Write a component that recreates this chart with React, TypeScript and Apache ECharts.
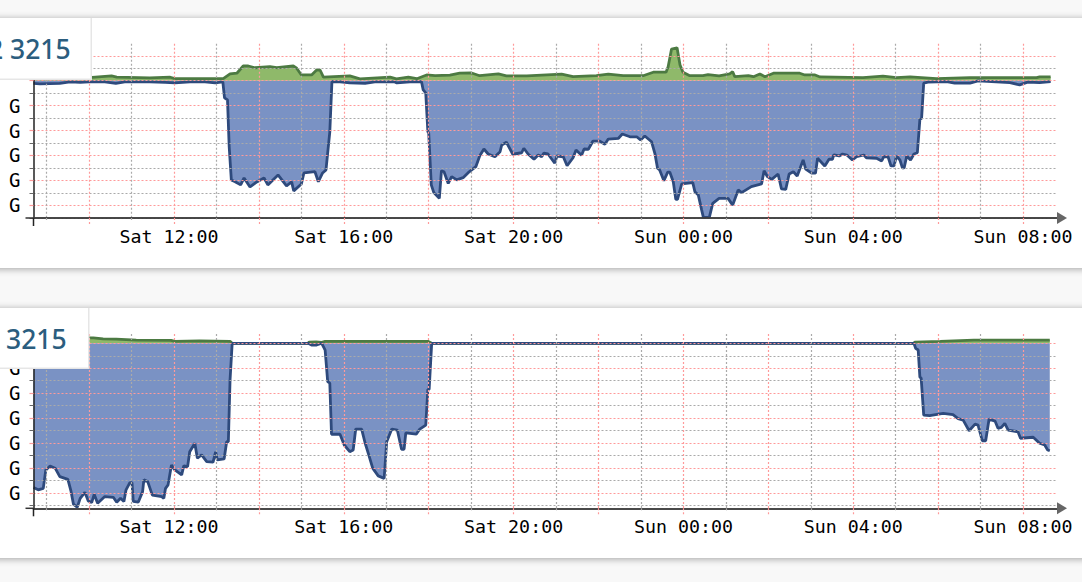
import React, { useEffect, useRef } from 'react';
import * as echarts from 'echarts';

// time axis is hours counted from Sat 00:00, y axis is in G
const minHours = 8.69;
const maxHours = 32.8;
const oddHours = [9, 11, 13, 15, 17, 19, 21, 23, 25, 27, 29, 31];
const evenHours = [10, 12, 14, 16, 18, 20, 22, 24, 26, 28, 30, 32];
const xLabelValues = [11.88, 16, 20, 24, 28, 32];
const xLabelTexts = ['Sat 12:00', 'Sat 16:00', 'Sat 20:00', 'Sun 00:00', 'Sun 04:00', 'Sun 08:00'];

const topMajorY = [1, 0, -1, -2, -3, -4, -5];
const topMinorY = [0.5, -0.5, -1.5, -2.5, -3.5, -4.5, -5.5];
const topLabelY = [-1, -2, -3, -4, -5];
const bottomMajorY = [0, -1, -2, -3, -4, -5, -6];
const bottomMinorY = [-0.5, -1.5, -2.5, -3.5, -4.5, -5.5, -6.5];
const bottomLabelY = [-1, -2, -3, -4, -5, -6];

const topIn = [
  [8.69, 0.14], [10.07, 0.13], [10.53, 0.19], [10.65, 0.14], [11.43, 0.11], [11.91, 0.14], [12.02, 0.08], [13.16, 0.08],
  [13.32, 0.27], [13.48, 0.3], [13.63, 0.59], [13.75, 0.59], [13.91, 0.52], [14.26, 0.56], [14.42, 0.52], [14.81, 0.59],
  [14.89, 0.5], [15.0, 0.23], [15.24, 0.23], [15.36, 0.43], [15.44, 0.43], [15.52, 0.14], [16.14, 0.19], [16.38, 0.07],
  [17.09, 0.14], [17.24, 0.07], [17.52, 0.14], [17.72, 0.08], [17.95, 0.23], [18.15, 0.2], [18.5, 0.22], [18.73, 0.3],
  [19.01, 0.31], [19.2, 0.2], [19.64, 0.27], [19.83, 0.19], [20.31, 0.19], [21.13, 0.26], [21.4, 0.16], [21.95, 0.2],
  [22.23, 0.26], [22.58, 0.2], [23.05, 0.2], [23.29, 0.34], [23.59, 0.34], [23.64, 0.56], [23.72, 1.27], [23.85, 1.32],
  [23.92, 0.63], [23.99, 0.34], [24.15, 0.2], [24.46, 0.2], [24.58, 0.24], [24.84, 0.19], [25.09, 0.27], [25.16, 0.36],
  [25.21, 0.16], [25.53, 0.2], [25.65, 0.16], [25.8, 0.27], [25.92, 0.16], [26.12, 0.3], [26.74, 0.3], [26.86, 0.23],
  [27.1, 0.23], [27.22, 0.15], [28.23, 0.12], [28.7, 0.18], [29.02, 0.12], [29.34, 0.15], [29.96, 0.08], [30.75, 0.12],
  [32.32, 0.12], [32.39, 0.15], [32.65, 0.15],
];

const topOut = [
  [8.69, -0.11], [8.84, -0.13], [9.31, -0.11], [9.55, -0.05], [9.79, -0.07], [10.0, -0.05], [10.37, -0.05], [10.63, -0.11],
  [10.84, -0.05], [11.43, -0.05], [11.79, -0.07], [12.02, -0.09], [12.38, -0.05], [12.73, -0.05], [12.97, -0.09], [13.15, -0.05],
  [13.19, -0.69], [13.26, -0.77], [13.3, -2.66], [13.35, -3.98], [13.44, -4.05], [13.57, -4.18], [13.65, -3.9], [13.79, -4.26],
  [13.95, -4.06], [14.12, -3.9], [14.21, -4.18], [14.45, -3.78], [14.65, -4.22], [14.77, -4.06], [14.82, -4.42], [15.0, -4.14],
  [15.06, -3.7], [15.32, -3.65], [15.4, -4.05], [15.5, -3.7], [15.58, -3.58], [15.67, -2.05], [15.72, -0.04], [15.91, -0.05],
  [16.14, -0.09], [16.5, -0.11], [16.73, -0.05], [17.2, -0.05], [17.25, -0.09], [17.56, -0.05], [17.83, -0.04], [17.87, -0.37],
  [17.93, -0.49], [17.98, -2.05], [18.0, -2.1], [18.06, -4.18], [18.12, -4.49], [18.25, -4.72], [18.3, -3.61], [18.36, -3.65],
  [18.46, -4.12], [18.54, -3.85], [18.66, -3.98], [18.81, -3.89], [18.93, -3.69], [19.11, -3.45], [19.2, -3.02], [19.3, -2.74],
  [19.4, -2.94], [19.56, -3.05], [19.68, -2.85], [19.72, -2.58], [19.83, -2.47], [19.98, -2.95], [20.19, -2.89], [20.24, -2.71],
  [20.34, -2.94], [20.48, -3.15], [20.58, -2.98], [20.66, -3.05], [20.71, -2.91], [20.81, -2.94], [20.97, -3.31], [21.02, -3.02],
  [21.17, -3.05], [21.26, -3.41], [21.4, -3.09], [21.47, -2.78], [21.6, -2.99], [21.66, -2.74], [21.76, -2.75], [21.87, -2.42],
  [22.02, -2.42], [22.15, -2.55], [22.23, -2.34], [22.47, -2.31], [22.56, -2.14], [22.74, -2.25], [22.9, -2.25], [22.99, -2.38],
  [23.09, -2.22], [23.25, -2.45], [23.33, -2.94], [23.39, -3.51], [23.44, -3.58], [23.54, -4.01], [23.63, -3.67], [23.68, -3.67],
  [23.76, -4.05], [23.82, -4.76], [23.86, -4.76], [23.96, -4.14], [24.22, -4.09], [24.27, -4.45], [24.35, -4.58], [24.43, -5.19],
  [24.47, -5.48], [24.61, -5.48], [24.69, -4.92], [24.84, -4.72], [25.05, -4.72], [25.16, -4.99], [25.29, -4.38], [25.37, -4.49],
  [25.6, -4.25], [25.84, -4.14], [25.9, -3.61], [25.98, -3.85], [26.08, -3.96], [26.23, -3.74], [26.31, -4.34], [26.41, -4.36],
  [26.49, -3.74], [26.59, -3.65], [26.68, -3.82], [26.82, -3.18], [26.88, -3.55], [27.02, -3.71], [27.11, -3.71], [27.16, -3.11],
  [27.33, -3.42], [27.43, -3.15], [27.51, -3.15], [27.54, -2.98], [27.67, -3.02], [27.75, -2.94], [27.85, -2.98], [27.98, -3.18],
  [28.08, -3.05], [28.25, -2.98], [28.31, -3.09], [28.55, -3.11], [28.67, -3.22], [28.72, -3.05], [28.82, -3.05], [28.89, -3.42],
  [28.96, -3.42], [29.02, -3.02], [29.1, -3.18], [29.16, -3.51], [29.2, -3.49], [29.26, -3.02], [29.35, -3.18], [29.43, -2.94],
  [29.51, -2.89], [29.57, -1.55], [29.61, -1.51], [29.66, -0.1], [29.76, -0.06], [30.2, -0.04], [30.39, -0.1], [30.75, -0.1],
  [30.94, -0.01], [31.26, -0.04], [31.69, -0.08], [31.92, -0.17], [32.11, -0.06], [32.39, -0.08], [32.65, -0.04],
];

const bottomIn = [
  [8.69, 0.22], [10.1, 0.22], [10.33, 0.18], [10.64, 0.17], [11.11, 0.13], [11.93, 0.12], [12.02, 0.08], [12.6, 0.1],
  [13.32, 0.08], [13.37, 0], [15.16, 0], [15.18, 0.05], [15.35, 0.06], [15.48, 0.04], [15.56, 0.08], [17.98, 0.08],
  [18.07, 0], [29.43, 0], [29.45, 0.05], [30.05, 0.08], [30.84, 0.13], [32.63, 0.13],
];

const bottomOut = [
  [8.69, -5.79], [8.8, -5.88], [8.92, -5.82], [8.98, -5.08], [9.08, -4.92], [9.2, -5.01], [9.31, -5.35], [9.5, -5.46],
  [9.57, -5.91], [9.63, -6.45], [9.72, -6.58], [9.79, -6.22], [9.9, -5.98], [9.98, -6.33], [10.06, -6.39], [10.12, -6.06],
  [10.2, -6.42], [10.37, -6.15], [10.57, -6.18], [10.65, -6.38], [10.74, -6.22], [10.82, -6.35], [10.87, -5.88], [10.96, -5.59],
  [11.01, -5.59], [11.04, -6.34], [11.16, -6.37], [11.26, -5.95], [11.29, -5.48], [11.38, -5.55], [11.49, -6.09], [11.71, -6.15],
  [11.76, -6.22], [11.8, -5.82], [11.86, -5.68], [11.94, -4.88], [12.02, -5.08], [12.18, -5.28], [12.23, -4.92], [12.32, -4.95],
  [12.37, -4.35], [12.49, -4.01], [12.55, -4.61], [12.65, -4.48], [12.77, -4.75], [12.92, -4.77], [12.98, -4.35], [13.02, -4.68],
  [13.18, -4.64], [13.24, -3.95], [13.28, -3.95], [13.32, -1.47], [13.37, 0], [15.16, 0], [15.24, -0.07], [15.36, -0.07],
  [15.48, 0], [15.56, -0.27], [15.62, -1.54], [15.67, -1.6], [15.71, -3.65], [15.91, -3.65], [16.01, -4.08], [16.14, -4.35],
  [16.22, -4.28], [16.28, -3.44], [16.42, -3.44], [16.5, -3.99], [16.58, -4.44], [16.68, -5.01], [16.81, -5.32], [16.95, -5.42],
  [17.01, -3.95], [17.13, -3.44], [17.26, -3.48], [17.36, -4.25], [17.42, -4.25], [17.46, -3.59], [17.71, -3.64], [17.79, -3.44],
  [17.93, -3.28], [17.98, -1.85], [18.01, -1.85], [18.07, 0], [29.43, 0], [29.47, -0.2], [29.53, -0.27], [29.57, -1.36],
  [29.6, -1.4], [29.66, -2.88], [29.8, -2.9], [30.12, -2.81], [30.35, -2.86], [30.47, -3.02], [30.59, -3.08], [30.73, -3.51],
  [30.87, -3.24], [30.94, -3.28], [31.04, -3.91], [31.12, -3.91], [31.2, -3.04], [31.34, -3.12], [31.41, -3.41], [31.49, -3.37],
  [31.57, -3.21], [31.65, -3.48], [31.88, -3.55], [31.94, -3.81], [32.24, -3.77], [32.39, -4.01], [32.51, -4.08], [32.58, -4.28],
  [32.63, -4.31],
];

const RED = '#ff9a9a';
const GRAY = '#aaaaaa';
const DASH = [2, 2];
const MONO = '"DejaVu Sans Mono", monospace';

const buildXAxes = (gridIndex: number) => [
  {
    type: 'value',
    gridIndex,
    min: minHours,
    max: maxHours,
    position: 'bottom',
    z: 5,
    // arrow is gray, the dark line itself comes from the second axis
    axisLine: {
      show: true,
      onZero: false,
      lineStyle: { color: '#666', width: 1.5 },
      symbol: ['none', 'triangle'],
      symbolSize: [12, 10],
      symbolOffset: [0, 5],
    },
    axisTick: { show: true, customValues: evenHours, length: 6, lineStyle: { color: RED, type: DASH, width: 1.2 } },
    axisLabel: {
      show: true,
      customValues: xLabelValues,
      // customValues labels get no index from echarts
      formatter: (v: number) => xLabelTexts[xLabelValues.indexOf(v)],
      fontFamily: MONO,
      fontSize: 18.3,
      color: '#000',
      margin: 9,
    },
    splitLine: { show: true, lineStyle: { color: RED, type: DASH, width: 1.2 } },
  },
  {
    type: 'value',
    gridIndex,
    min: minHours,
    max: maxHours,
    position: 'bottom',
    z: 5,
    axisLine: { show: true, onZero: false, lineStyle: { color: '#333', width: 1.5 } },
    axisTick: { show: true, customValues: oddHours, length: 3, lineStyle: { color: GRAY, type: DASH, width: 1.2 } },
    axisLabel: { show: false },
    splitLine: { show: true, lineStyle: { color: GRAY, type: DASH, width: 1.2 } },
  },
];

const buildYAxes = (gridIndex: number, min: number, max: number, major: number[], minor: number[], labels: number[]) => [
  {
    type: 'value',
    gridIndex,
    min,
    max,
    position: 'left',
    z: 5,
    axisLine: { show: true, onZero: false, lineStyle: { color: '#222', width: 1.5 } },
    axisTick: { show: true, customValues: major, length: 4, lineStyle: { color: RED, width: 1.2 } },
    axisLabel: {
      show: true,
      customValues: labels,
      formatter: () => 'G',
      fontFamily: MONO,
      fontSize: 19,
      color: '#000',
      margin: 13,
    },
    splitLine: { show: true, lineStyle: { color: RED, type: DASH, width: 1.2 } },
  },
  {
    type: 'value',
    gridIndex,
    min,
    max,
    position: 'left',
    z: 5,
    axisLine: { show: false },
    axisTick: { show: true, customValues: minor, length: 4, lineStyle: { color: '#666' } },
    axisLabel: { show: false },
    splitLine: { show: true, lineStyle: { color: GRAY, type: DASH, width: 1.2 } },
  },
];

const buildSeries = (name: string, data: number[][], axisIndex: number, line: string, fill: string) => ({
  name,
  type: 'line',
  data,
  xAxisIndex: axisIndex,
  yAxisIndex: axisIndex,
  symbol: 'none',
  showSymbol: false,
  z: 2,
  lineStyle: { color: line, width: 2.8 },
  areaStyle: { color: fill, opacity: 1, origin: 0 },
});

const titleCard = (y: number, width: number, height: number, text: string, textX: number) => [
  { type: 'rect', z: 10, shape: { x: 0, y, width, height }, style: { fill: '#e6e6e6' } },
  { type: 'rect', z: 11, shape: { x: 0, y, width: width - 1.5, height: height - 1.5 }, style: { fill: '#fff' } },
  {
    type: 'text',
    z: 12,
    x: textX,
    y: y + 31,
    style: {
      text,
      fill: '#2b5d7e',
      font: '500 26.5px "Noto Sans", sans-serif',
      textVerticalAlign: 'middle',
    },
  },
];

const axisCorner = (y: number) => [
  { type: 'line', z: 6, shape: { x1: 25.5, y1: y, x2: 33.5, y2: y }, style: { stroke: '#333', lineWidth: 1.5 } },
  { type: 'line', z: 6, shape: { x1: 33.5, y1: y, x2: 33.5, y2: y + 8 }, style: { stroke: '#222', lineWidth: 1.5 } },
];

const cardStyle = (top: number): React.CSSProperties => ({
  position: 'absolute',
  left: -10,
  right: -10,
  top,
  height: 250,
  background: '#fff',
  boxShadow: '0 1px 7px rgba(0,0,0,0.35)',
});

const App: React.FC = () => {
  const chartRef = useRef<HTMLDivElement>(null);

  useEffect(() => {
    document.body.style.margin = '0';
    document.body.style.background = '#f8f8f8';
    const chart = echarts.init(chartRef.current, null, { renderer: 'svg' });
    chart.setOption({
      animation: false,
      backgroundColor: 'transparent',
      grid: [
        { left: 33.5, width: 1023.5, top: 43.7, height: 174.3 },
        { left: 33.5, width: 1023.5, top: 334, height: 174.3 },
      ],
      xAxis: [...buildXAxes(0), ...buildXAxes(1)],
      yAxis: [
        ...buildYAxes(0, -5.507, 1.484, topMajorY, topMinorY, topLabelY),
        ...buildYAxes(1, -6.62, 0.373, bottomMajorY, bottomMinorY, bottomLabelY),
      ],
      series: [
        buildSeries('top in', topIn, 0, '#4c7a42', '#8fb96a'),
        buildSeries('top out', topOut, 0, '#2e4a7d', '#7a92c4'),
        buildSeries('bottom in', bottomIn, 2, '#4c7a42', '#8fb96a'),
        buildSeries('bottom out', bottomOut, 2, '#2e4a7d', '#7a92c4'),
      ],
      graphic: {
        elements: [
          ...axisCorner(218),
          ...axisCorner(508.3),
          ...titleCard(18, 92, 62, '2 3215', -12),
          ...titleCard(308, 89.5, 61, '3215', 6),
        ],
      },
    });
    return () => {
      chart.dispose();
    };
  }, []);

  return (
    <div style={{ position: 'relative', width: 1082, height: 582, overflow: 'hidden', background: '#f8f8f8' }}>
      <div style={cardStyle(18)} />
      <div style={cardStyle(308)} />
      <div ref={chartRef} style={{ position: 'absolute', left: 0, top: 0, width: 1082, height: 582 }} />
    </div>
  );
};

export default App;
